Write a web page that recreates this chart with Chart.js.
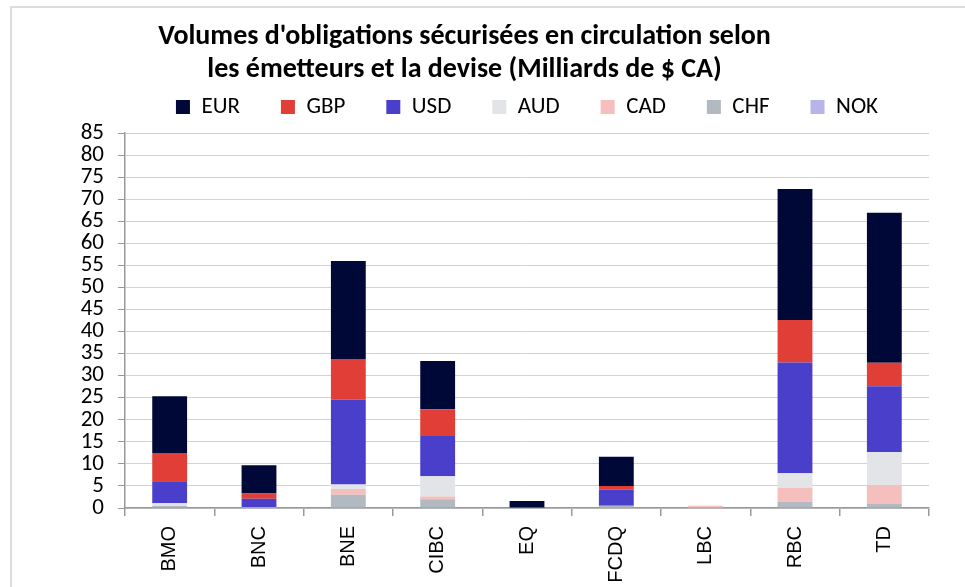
<!DOCTYPE html>
<html>
<head>
<meta charset="utf-8">
<script src="https://cdn.jsdelivr.net/npm/chart.js@4"></script>
<style>
  html, body { margin: 0; padding: 0; background: #fff; overflow: hidden; }
  #frame { position: absolute; left: 10px; top: 6px; width: 990px; height: 620px; border: 2px solid #dadce0; }
  #wrap { position: absolute; left: 0; top: 0; width: 965px; height: 587px; }
</style>
</head>
<body>
<div id="frame"></div>
<div id="wrap"><canvas id="myChart" width="965" height="587"></canvas></div>
<script>
var banks = ['BMO', 'BNC', 'BNE', 'CIBC', 'EQ', 'FCDQ', 'LBC', 'RBC', 'TD'];

// milliards de $ CA
var eur = [12.9, 6.4, 22.2, 10.9, 1.6, 6.6, 0, 29.7, 34.0];
var gbp = [6.4, 1.2, 9.2, 6.1, 0, 0.8, 0, 9.6, 5.3];
var usd = [5.0, 1.9, 19.3, 9.1, 0, 3.7, 0, 25.1, 14.9];
var aud = [0.6, 0, 1.0, 4.6, 0, 0, 0, 3.3, 7.5];
var cad = [0, 0, 1.3, 0.6, 0, 0, 0.5, 3.2, 4.2];
var chf = [0.45, 0.2, 3.0, 2.0, 0, 0.5, 0, 1.4, 1.0];
var nok = [0, 0, 0, 0, 0, 0, 0, 0, 0];

var yTicks = [0, 5, 10, 15, 20, 25, 30, 35, 40, 45, 50, 55, 60, 65, 70, 75, 80, 85];

var titleLines = [
  "Volumes d'obligations sécurisées en circulation selon",
  "les émetteurs et la devise (Milliards de $ CA)"
];

var sans = 'Carlito, "Noto Sans", sans-serif';

// title and legend boxes get fixed heights so the plot starts where the original does
var boxHeights = {
  id: 'boxHeights',
  beforeLayout: function (chart) {
    [[chart.titleBlock, 54.5], [chart.legend, 78.5]].forEach(function (p) {
      var box = p[0];
      if (!box || box._wrapped) return;
      var update = box.update;
      box.update = function () {
        var r = update.apply(this, arguments);
        this.height = p[1];
        return r;
      };
      box._wrapped = true;
    });
  }
};

var ctx = document.getElementById('myChart').getContext('2d');
var myChart = new Chart(ctx, {
  type: 'bar',
  data: {
    labels: banks,
    // bottom of the stack first, legend is reversed
    datasets: [
      { label: 'NOK', data: nok, backgroundColor: '#b8b3e8' },
      { label: 'CHF', data: chf, backgroundColor: '#b3b9c0' },
      { label: 'CAD', data: cad, backgroundColor: '#f4bfbc' },
      { label: 'AUD', data: aud, backgroundColor: '#e2e4e7' },
      { label: 'USD', data: usd, backgroundColor: '#4a3fca' },
      { label: 'GBP', data: gbp, backgroundColor: '#e03e36' },
      { label: 'EUR', data: eur, backgroundColor: '#000838' }
    ]
  },
  plugins: [boxHeights],
  options: {
    responsive: false,
    animation: false,
    devicePixelRatio: 1,
    layout: { padding: { top: 0, right: 36, left: 0, bottom: 0 } },
    datasets: {
      bar: { categoryPercentage: 1, barPercentage: 0.39, borderWidth: 0 }
    },
    plugins: {
      title: {
        display: true,
        text: titleLines,
        color: '#000',
        font: { family: sans, size: 28, weight: 'bold', lineHeight: 1.1786 },
        padding: { top: 20.5, bottom: 0 }
      },
      legend: {
        position: 'top',
        fullSize: false,
        reverse: true,
        labels: {
          boxWidth: 14,
          boxHeight: 14,
          padding: 41,
          color: '#000',
          font: { family: sans, size: 23 }
        }
      },
      tooltip: { enabled: false }
    },
    scales: {
      x: {
        stacked: true,
        afterFit: function (scale) { scale.height = 79; },
        grid: { display: true, drawOnChartArea: false, tickLength: 8, color: '#999', lineWidth: 1.5 },
        border: { display: true, color: '#999', width: 1.5 },
        ticks: {
          minRotation: 90,
          maxRotation: 90,
          padding: 10,
          color: '#000',
          font: { family: '"Liberation Sans", Arial, sans-serif', size: 20 }
        }
      },
      y: {
        stacked: true,
        min: 0,
        max: 85,
        afterFit: function (scale) { scale.width = 125; },
        afterBuildTicks: function (scale) {
          scale.ticks = yTicks.map(function (v) { return { value: v }; });
        },
        grid: { color: '#cfd3da', lineWidth: 1, tickLength: 7, tickColor: '#999' },
        border: { display: true, color: '#999', width: 1.5 },
        ticks: {
          autoSkip: false,
          padding: 14,
          color: '#000',
          font: { family: sans, size: 23, lineHeight: 1 }
        }
      }
    }
  }
});
</script>
</body>
</html>
